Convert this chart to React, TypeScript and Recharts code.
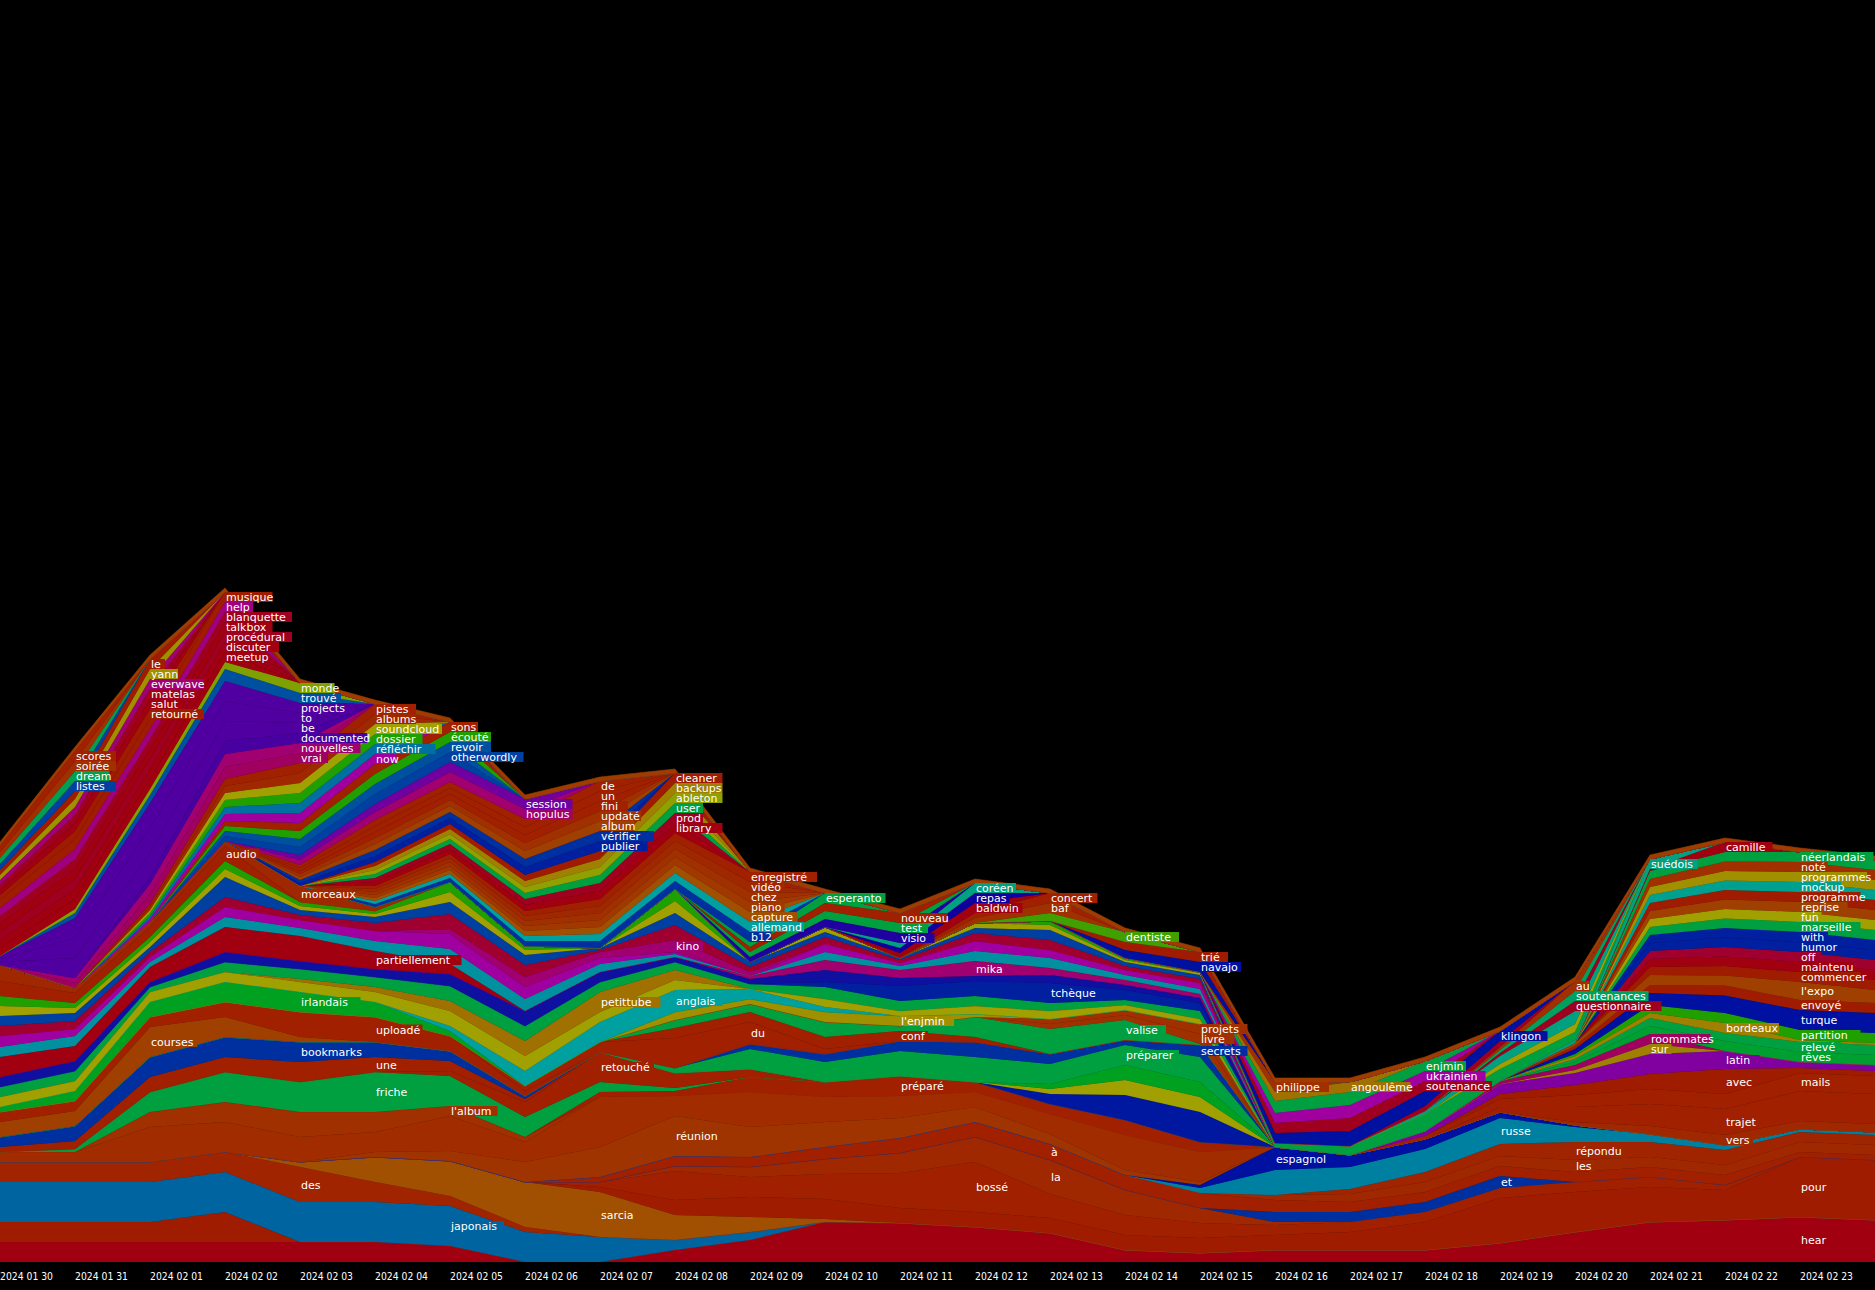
import React from 'react';
import { AreaChart, Area, XAxis, YAxis } from 'recharts';

// [word, colour, label date index (-1 = none), first date index, counts from that date]
type Row = [string, string, number, number, number[]];

const DATES = ['2024 01 30', '2024 01 31', '2024 02 01', '2024 02 02', '2024 02 03', '2024 02 04', '2024 02 05',
  '2024 02 06', '2024 02 07', '2024 02 08', '2024 02 09', '2024 02 10', '2024 02 11', '2024 02 12', '2024 02 13',
  '2024 02 14', '2024 02 15', '2024 02 16', '2024 02 17', '2024 02 18', '2024 02 19', '2024 02 20', '2024 02 21',
  '2024 02 22', '2024 02 23', '2024 02 24'];

// lowest layers, long lived words
const BOTTOM: Row[] = [
  ['hear', '#a00010', 24, 0, [2, 2, 2, 2, 2, 2, 1.6, 0, 0, 1.2, 2.2, 4, 3.9, 3.5, 2.9, 1.2, 0.9, 1.2, 1.2, 1.2, 1.9, 3, 4, 4.2, 4.5, 4.2]],
  ['_r2', '#a01c00', -1, 0, [2, 2, 2, 3]],
  ['japonais', '#0064a0', 6, 0, [4, 4, 4, 4, 4, 4, 4, 3, 2.5, 1, 0.8]],
  ['des', '#a02400', 4, 0, [2, 2, 2, 2, 3.5, 2, 1, 0.5]],
  ['sarcia', '#a05000', 8, 0, [0, 0, 0, 0, 0.5, 2.5, 3.5, 4.5, 4.5, 2.5, 1.5, 0.3]],
  ['pour', '#a01c00', 24, 8, [0.5, 1.5, 2, 2, 1.5, 1.5, 1.5, 1.5, 1.5, 1.5, 1.8, 2.8, 4.5, 4, 3.5, 3, 6, 6]],
  ['bossé', '#a02000', 13, 8, [0.5, 2.9, 2, 2.5, 3.5, 5, 2.4, 2, 1.5, 1, 1, 1, 1, 1, 1, 0.5]],
  ['la', '#a02800', 14, 9, [0.5, 1, 1.5, 2, 2.5, 3.4, 2.5, 1.5, 0.3]],
  ['et', '#0030a0', 20, 17, [1, 1, 1, 1.2]],
  ['à', '#a02000', 14, 8, [0.5, 1, 1, 1.2, 1.5, 1.5, 1.6, 1.5, 1.5, 1.2, 1, 1, 1, 1, 1, 1, 0.5, 0.5]],
  ['les', '#a02800', 21, 17, [0.5, 0.8, 1, 1, 1.2, 1, 1, 1, 1]],
  ['répondu', '#a02400', 21, 18, [0.5, 1, 1.2, 1.8, 1.5, 1.5, 1, 1]],
  ['russe', '#0080a0', 20, 16, [0.5, 2.5, 2.2, 2.3, 2.6, 1.5, 0.8, 0.5, 0.3, 0.3]],
  ['espagnol', '#0010a0', 17, 16, [0.3, 2.3, 1.2, 1, 0.6, 0.2]],
  ['réunion', '#a03400', 9, 5, [0.5, 1, 2, 3, 4, 3, 2.5, 2, 1.5, 1, 0.5, 0.3]],
];

// middle of the stream, first half of the month
const MIDDLE: Row[] = [
  ['_m1', '#a02c00', -1, 0, [1, 1, 3.5, 3, 2.5, 2, 3.5, 2, 5, 2, 3.5, 2.5, 2.2, 1.5, 2, 3.5, 3]],
  ["l'album", '#a03000', 6, 0, [0, 0, 1.5, 2, 2.5, 2, 1, 0.5]],
  ['préparé', '#a02000', 12, 8, [0.5, 0.5, 1.5, 1.5, 2, 1, 1, 1.5, 1]],
  ['friche', '#00a040', 5, 0, [0, 0.3, 2, 3, 3, 4, 3, 2, 1, 0.3]],
  ['retouché', '#a02000', 8, 6, [0.5, 1.5, 3, 1.5, 0.8]],
  ['une', '#a02000', 5, 0, [0.5, 0.8, 1.5, 1.5, 2, 1.5, 1, 0.3]],
  ['bookmarks', '#0030a0', 4, 0, [1, 1.5, 2, 2, 2, 1.5, 1, 0.3]],
  ['_nv', '#0018a0', -1, 14, [1, 2.5, 3]],
  ['_yl', '#a0a000', -1, 14, [0.5, 1.5, 1.5]],
  ['_gl', '#00a020', -1, 14, [0.5, 1.5, 1.5]],
  ['préparer', '#00a040', 15, 9, [0.5, 2, 2, 2.5, 2.5, 2, 2, 2.5]],
  ['secrets', '#0030a0', 16, 10, [0.5, 0.8, 1, 1.5, 1, 0.5, 1.2]],
  ['courses', '#a04000', 2, 0, [1.5, 1.5, 3, 2, 0.5]],
  ['uploadé', '#a02000', 5, 0, [1, 1, 1, 1.5, 2.5, 2.5, 1.5, 0.5]],
  ['du', '#a02000', 10, 7, [0.5, 1, 3, 2.2, 0.5]],
  ['conf', '#a02000', 12, 9, [1, 1, 1.2, 1, 0.5]],
  ['valise', '#00a040', 15, 9, [0.8, 0.8, 1.5, 0.5, 2, 2.5, 2, 0.1]],
  ['livre', '#a03000', 16, 14, [0.5, 0.5, 1]],
  ['projets', '#a03000', 16, 14, [0.5, 0.5, 1]],
  ["l'enjmin", '#a09000', 12, 9, [0.8, 0.5, 1, 1, 0.3]],
  ['irlandais', '#00a020', 4, 0, [0.5, 1, 1.5, 2, 2, 1.5, 0.5]],
  ['anglais', '#00a0a0', 9, 6, [0.5, 1.5, 2, 2.2, 1, 0.5]],
  ['_ol', '#a0a000', -1, 0, [1, 1, 1, 1, 1, 1, 1.5, 1.5, 1, 1, 0, 0.8, 0.5, 0.8, 0.8, 0.5, 0.5]],
  ['petittube', '#a07000', 8, 4, [0.3, 0.5, 1, 1.5, 2, 1]],
  ['_gr', '#00a040', -1, 0, [1, 1, 0.5, 1, 1, 1, 1.5, 1.5, 1, 0.8, 0.5, 1.2, 1, 1, 0.8, 0.5, 0.8]],
  ['tchèque', '#0020a0', 14, 11, [0.5, 1.5, 1.5, 2, 1, 0.8]],
  ['_nv2', '#1010a0', -1, 0, [1, 1, 0.5, 1, 0.8, 0.8, 1.2, 1.5, 1, 0.5, 0.5, 1.2, 0.8, 0.5, 0.8, 0.5, 0.5]],
  ['mika', '#a00070', 13, 10, [0.3, 1, 0.8, 1.5, 0.7, 0.5, 0.4]],
  ['partiellement', '#a00010', 5, 0, [2, 1.5, 1.5, 2.5, 2.5, 1.8, 1]],
  ['_tl', '#0090a0', -1, 0, [1, 1, 0.5, 1, 0.8, 1, 1.5, 1.2, 0.8, 0.3, 0, 0.8, 0.4, 1, 1, 0.5, 0.5]],
  ['_mg', '#a000a0', -1, 0, [1.1, 0.7, 0.5, 1, 0.8, 1, 1.5, 1.2, 0.6, 0.2, 0, 0.8, 0.3, 1, 0.8, 0.5, 0.6]],
  ['kino', '#a00070', 9, 6, [0.5, 1, 0.6, 1.2, 0.4]],
  ['_rd', '#a00030', -1, 0, [1, 0.8, 0.5, 1, 0.5, 0.8, 1.5, 1.2, 0.2, 1.5, 0.5, 0.7, 0.3, 0.8, 1, 0.4, 0.4]],
  ['_bl', '#0040a0', -1, 0, [1, 0.8, 0.5, 2, 0.5, 0.6, 1.2, 1, 0.2, 1.2, 0.5, 0.5, 0.2, 0.5, 1, 0.4, 0.4]],
  ['_ol2', '#a0a000', -1, 0, [1, 0.5, 0.5, 0.8, 0.4, 0.3, 1, 0.5, 0, 1.2, 0, 0.5, 0, 0.5, 0.5, 0.2, 0.2]],
  ['_gr2', '#20a000', -1, 0, [1, 0.5, 0.5, 0.8, 0.4, 0.3, 1, 0.4, 0, 1.2, 0, 0, 0, 0, 0.4, 0.2, 0.1]],
  ['audio', '#a02000', 3, 0, [1.5, 1, 1, 1.5]],
  ['morceaux', '#a02800', 4, 0, [1.6, 0.5, 0.5, 0.5, 1.6, 0.4]],
];

// middle of the stream, end of the month
const RIGHT: Row[] = [
  ['vers', '#a02800', 23, 21, [0.3, 0.8, 1, 0.8, 0.8]],
  ['trajet', '#a02000', 23, 20, [0.5, 1.5, 2.2, 2.6, 3, 3]],
  ['mails', '#a02000', 24, 19, [0.3, 0.8, 1.2, 1.5, 1.5, 1.8, 1.8]],
  ['avec', '#a01c00', 23, 20, [0.5, 1, 1.5, 2.5, 0.5, 0.5]],
  ['latin', '#8000a0', 23, 19, [0.5, 1, 1.2, 2, 1.8, 0.6, 0.6]],
  ['sur', '#a08000', 22, 21, [0.3, 1]],
  ['roommates', '#a00060', 22, 20, [0.3, 0.5, 1]],
  ['rêves', '#00a030', 24, 21, [0.3, 0.8, 1, 1, 1]],
  ['relevé', '#00a040', 24, 21, [0.3, 0.8, 0.8, 1, 1]],
  ['bordeaux', '#a08000', 23, 21, [0.3, 0.5, 1, 0.2, 0.2]],
  ['partition', '#20a000', 24, 21, [0.2, 0.8, 1, 1, 1]],
  ['turque', '#0010a0', 24, 21, [0.5, 1.2, 1.75, 2, 2]],
  ['envoyé', '#a01c00', 24, 21, [0.3, 0.8, 1, 1, 1]],
  ["l'expo", '#a04000', 24, 21, [0.3, 1, 1, 1.8, 1.3]],
];

// new words of each day, sitting on top
const P24 = [0.8, 0.95, 1, 1];
const P21 = [0.3, 1];
const P16 = [0.8, 1];
const P14 = [0.5, 1];
const P13 = [0.5, 1];
const P12 = [0.5, 0.8, 1];
const P10 = [0.3, 0.4, 0.5, 0.7, 0.8, 1];
const P9 = [0.4, 0.5, 0.6, 0.8, 1];
const P8 = [0.3, 0.6, 0.6, 0.8, 1];
const P7 = [0.5, 0.8, 1, 1];
const P6 = [0.5, 0.8, 1, 1];
const P5 = [0.3, 0.7, 1, 1];
const P4 = [0.3, 2, 2.5, 2, 1];
const P3 = [0.8, 1, 1, 1];
const P2 = [0.5, 0.8, 1];
const P1 = [0.6, 1];

const TOP_GROUPS: Row[][] = [
  [['néerlandais', '#00a040', 24, 22, P24], ['noté', '#a03000', 24, 22, P24], ['programmes', '#a09000', 24, 22, P24],
    ['mockup', '#00a090', 24, 22, P24], ['programme', '#a01c00', 24, 22, P24], ['reprise', '#a04000', 24, 22, P24],
    ['fun', '#a0a000', 24, 22, P24], ['marseille', '#00a040', 24, 22, P24], ['with', '#0020a0', 24, 22, P24],
    ['humor', '#0020a0', 24, 22, P24], ['off', '#a00030', 24, 22, P24], ['maintenu', '#a00010', 24, 22, P24],
    ['commencer', '#a01c00', 24, 22, P24]],
  [['camille', '#a00010', 23, 22, [0.2, 1]]],
  [['suédois', '#00a080', 22, 21, [0.3, 1]]],
  [['au', '#a03000', 21, 20, P21], ['soutenances', '#00a060', 21, 20, P21], ['questionnaire', '#a00020', 21, 20, P21],
    ['_x21a', '#00a080', -1, 19, [0.3, 0.8, 1.3]], ['_x21b', '#a0a000', -1, 20, [0.5, 0.8]],
    ['_x21c', '#00a040', -1, 17, [0.4, 0.9, 1.7, 1.2, 0.8]]],
  [['klingon', '#0010a0', 20, 17, [1, 1.5, 1.5, 1]], ['_x20a', '#a00020', -1, 19, [0.5, 0.6]]],
  [['enjmin', '#00a040', 19, 17, [1.2, 1.3, 1]], ['ukrainien', '#a000a0', 19, 17, [1, 1.3, 1]],
    ['soutenance', '#a00020', 19, 17, [1, 1.3, 1]]],
  [['angoulême', '#a07000', 18, 17, [0.9, 1]]],
  [['philippe', '#a03000', 17, 17, [1]]],
  [['trié', '#a01c00', 16, 15, P16], ['navajo', '#0010a0', 16, 15, P16]],
  [['dentiste', '#40a000', 15, 14, [0.8, 1]]],
  [['concert', '#a02000', 14, 13, P14], ['baf', '#a03000', 14, 13, P14]],
  [['coréen', '#00a080', 13, 12, P13], ['repas', '#1000a0', 13, 12, P13], ['baldwin', '#a00010', 13, 12, P13]],
  [['nouveau', '#a02000', 12, 10, P12], ['test', '#00a040', 12, 10, P12], ['visio', '#2000a0', 12, 10, P12]],
  [['esperanto', '#00a040', 11, 10, [0.5, 1]]],
  [['enregistré', '#a02000', 10, 5, P10], ['vidéo', '#a02800', 10, 5, P10], ['chez', '#a03000', 10, 5, P10],
    ['piano', '#a03800', 10, 5, P10], ['capture', '#a05000', 10, 5, P10], ['allemand', '#00a0a0', 10, 5, P10],
    ['b12', '#0030a0', 10, 5, P10]],
  [['cleaner', '#a01c00', 9, 5, P9], ['backups', '#a08000', 9, 5, P9], ['ableton', '#90a000', 9, 5, P9],
    ['user', '#00a040', 9, 5, P9], ['prod', '#a00020', 9, 5, P9], ['library', '#a00010', 9, 5, P9]],
  [['de', '#a02000', 8, 4, P8], ['un', '#a02000', 8, 4, P8], ['fini', '#a02000', 8, 4, P8],
    ['updaté', '#a03000', 8, 4, P8], ['album', '#a04000', 8, 4, P8], ['vérifier', '#0030a0', 8, 4, P8],
    ['publier', '#0020a0', 8, 4, P8]],
  [['session', '#7000a0', 7, 4, P7], ['hopulus', '#a00070', 7, 4, P7]],
  [['sons', '#a02000', 6, 3, P6], ['écouté', '#20a000', 6, 3, P6], ['revoir', '#0050a0', 6, 3, P6],
    ['otherwordly', '#0040a0', 6, 3, P6]],
  [['pistes', '#a02000', 5, 2, P5], ['albums', '#a02800', 5, 2, P5], ['soundcloud', '#a0a000', 5, 2, P5],
    ['dossier', '#20a000', 5, 2, P5], ['réfléchir', '#0070a0', 5, 2, P5], ['now', '#a000a0', 5, 2, P5]],
  [['monde', '#80a000', 4, 1, [0.4, 0.6, 0.7, 1]], ['trouvé', '#0050a0', 4, 1, [0.5, 0.8, 1.2, 1]],
    ['projects', '#5000a0', 4, 0, P4], ['to', '#5000a0', 4, 0, P4], ['be', '#5000a0', 4, 0, P4],
    ['documented', '#4800a0', 4, 2, [0.6, 1.3, 1]], ['nouvelles', '#a00070', 4, 1, [0.5, 1, 1.3, 1]],
    ['vrai', '#a00060', 4, 1, [0.5, 1, 1.2, 1]]],
  [['musique', '#a01c00', 3, 0, P3], ['help', '#a00080', 3, 0, P3], ['blanquette', '#a00020', 3, 0, P3],
    ['talkbox', '#a00010', 3, 0, P3], ['procédural', '#a00020', 3, 0, P3], ['discuter', '#a00010', 3, 0, P3],
    ['meetup', '#a00010', 3, 0, P3]],
  [['le', '#a01c00', 2, 0, P2], ['yann', '#a09000', 2, 0, P2], ['everwave', '#a00070', 2, 0, P2],
    ['matelas', '#a00020', 2, 0, P2], ['salut', '#a00010', 2, 0, P2], ['retourné', '#a01c00', 2, 0, P2]],
  [['scores', '#a02000', 1, 0, P1], ['soirée', '#a03000', 1, 0, P1], ['dream', '#00a050', 1, 0, P1],
    ['listes', '#0040a0', 1, 0, P1]],
];

const OUTLINE = [0.4, 0.4, 0.4, 0.4, 0.4, 0.4, 0.4, 0.4, 0.4, 0.4, 0.4, 0.4, 0.4, 0.4, 0.4, 0.4, 0.4, 0.4, 0.4,
  0.4, 0.4, 0.4, 0.4, 0.4, 0.4, 0.4];

const W = 1875;
const H = 1290;
const AXIS_H = 28;
const Y_MAX = 126.2;
const PX = (H - AXIS_H) / Y_MAX;

type Layer = { key: string; name: string; color: string; label: number; start: number; vals: number[] };

const rowsInOrder: Row[] = [
  ...BOTTOM,
  ...MIDDLE,
  ...RIGHT,
  ...TOP_GROUPS.flatMap((g) => [...g].reverse()),
  ['_outline', '#a03c00', -1, 0, OUTLINE],
];

const LAYERS: Layer[] = rowsInOrder.map((r, i) => ({
  key: 'k' + i, name: r[0], color: r[1], label: r[2], start: r[3], vals: r[4],
}));

const chartData = DATES.map((d, i) => {
  const row: any = { x: i, date: d };
  LAYERS.forEach((l) => {
    const j = i - l.start;
    row[l.key] = j >= 0 && j < l.vals.length ? l.vals[j] : 0;
  });
  return row;
});

const TICKS = DATES.slice(0, 25).map((_, i) => i);

const DateTick = (p: any) => (
  <text x={p.x} y={p.y + 10} fill="#fff" fontSize={11} textLength={53} lengthAdjust="spacingAndGlyphs"
    fontFamily='"DejaVu Sans Condensed", "DejaVu Sans", sans-serif' textAnchor="start">
    {DATES[p.payload.value]}
  </text>
);

const wordTag = (l: Layer) => (p: any) => {
  const vb = p.viewBox || {};
  const x = vb.x ?? p.x;
  const y = vb.y ?? p.y;
  if (p.index !== l.label || x == null || y == null) return <g />;
  const cy = y + (l.vals[l.label - l.start] * PX) / 2;
  return (
    <g>
      <rect x={x} y={cy - 5} width={l.name.length * 6.5 + 2} height={10} fill={l.color} />
      <text x={x + 1} y={cy + 4} fill="#fff" fontSize={11} fontFamily='"DejaVu Sans", sans-serif'>{l.name}</text>
    </g>
  );
};

export default function App() {
  return (
    <div style={{ width: W, height: H, background: '#000' }}>
      <style>{'body{margin:0;background:#000}'}</style>
      <AreaChart width={W} height={H} data={chartData} margin={{ top: 0, right: 0, bottom: 0, left: 0 }}>
        <XAxis dataKey="x" type="number" domain={[0, 25]} ticks={TICKS} interval={0} axisLine={false}
          tickLine={false} height={AXIS_H} tick={DateTick} />
        <YAxis hide type="number" domain={[0, Y_MAX]} allowDataOverflow />
        {LAYERS.map((l) => (
          <Area key={l.key} type="linear" dataKey={l.key} stackId="stream" stroke={l.color} strokeWidth={0.6}
            fill={l.color} fillOpacity={1} dot={false} activeDot={false} isAnimationActive={false} />
        ))}
        {/* same stack again, invisible, so the word tags end up above every layer */}
        {LAYERS.map((l) => (
          <Area key={'t' + l.key} type="linear" dataKey={l.key} stackId="tags" stroke="none" fill="none"
            dot={false} activeDot={false} isAnimationActive={false}
            label={l.label >= 0 && !l.name.startsWith('_') ? wordTag(l) : false} />
        ))}
      </AreaChart>
    </div>
  );
}
